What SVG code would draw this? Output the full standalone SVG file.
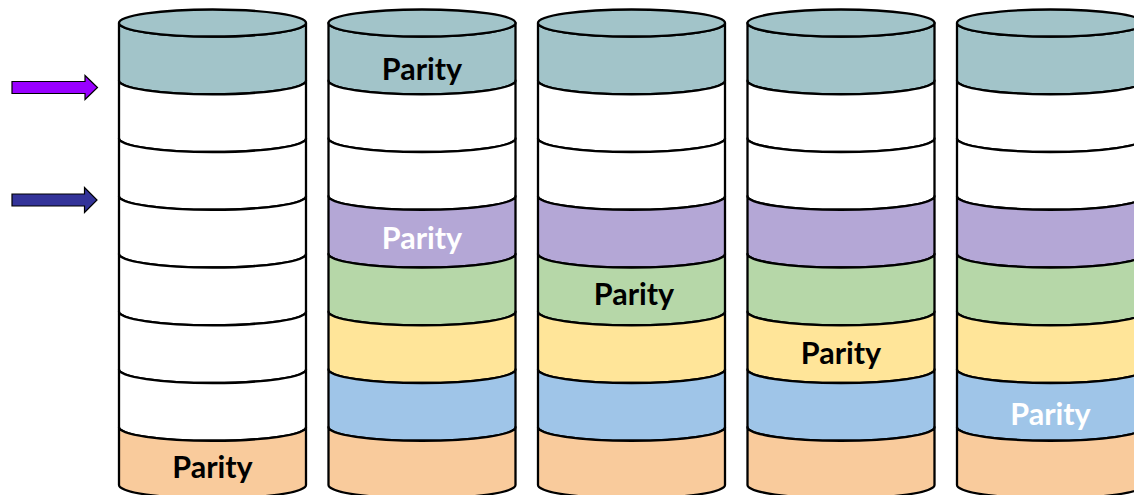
<svg xmlns="http://www.w3.org/2000/svg" xmlns:xlink="http://www.w3.org/1999/xlink" width="1134" height="495" viewBox="0 0 1134 495">
  <style>
    .seg { stroke: #000; stroke-width: 2.3; stroke-linejoin: round; }
    .teal { fill: #a2c4c9; }
    .white { fill: #ffffff; }
    .purple { fill: #b4a7d6; }
    .green { fill: #b6d7a8; }
    .yellow { fill: #ffe599; }
    .blue { fill: #9fc5e8; }
    .orange { fill: #f9cb9c; }
    .label { font-family: Lato, "Liberation Sans", sans-serif; font-weight: bold; font-size: 30.5px; text-anchor: middle; dominant-baseline: central; }
    .dark { fill: #000; }
    .light { fill: #fff; }
    .arrow { stroke: #000; stroke-width: 1.2; }
  </style>
  <defs>
    <!-- one stripe of a disk, drawn at x=0; stripes are 57.75 tall, arcs rx 93.5 / ry 13.5 -->
    <path id="s0" d="M0,23 A93.5,13.5 0 0 0 187,23 L187,80.75 A93.5,13.5 0 0 1 0,80.75 Z"/>
    <path id="s1" d="M0,80.75 A93.5,13.5 0 0 0 187,80.75 L187,138.5 A93.5,13.5 0 0 1 0,138.5 Z"/>
    <path id="s2" d="M0,138.5 A93.5,13.5 0 0 0 187,138.5 L187,196.25 A93.5,13.5 0 0 1 0,196.25 Z"/>
    <path id="s3" d="M0,196.25 A93.5,13.5 0 0 0 187,196.25 L187,254 A93.5,13.5 0 0 1 0,254 Z"/>
    <path id="s4" d="M0,254 A93.5,13.5 0 0 0 187,254 L187,311.75 A93.5,13.5 0 0 1 0,311.75 Z"/>
    <path id="s5" d="M0,311.75 A93.5,13.5 0 0 0 187,311.75 L187,369.5 A93.5,13.5 0 0 1 0,369.5 Z"/>
    <path id="s6" d="M0,369.5 A93.5,13.5 0 0 0 187,369.5 L187,427.25 A93.5,13.5 0 0 1 0,427.25 Z"/>
    <path id="s7" d="M0,427.25 A93.5,13.5 0 0 0 187,427.25 L187,485 A93.5,13.5 0 0 1 0,485 Z"/>
    <ellipse id="lid" cx="93.5" cy="23" rx="93.5" ry="13.5"/>
  </defs>

  <!-- disk 1 -->
  <g id="disk1" transform="translate(119,0)">
    <use href="#s0" class="seg teal"/>
    <use href="#lid" class="seg teal"/>
    <use href="#s1" class="seg white"/>
    <use href="#s2" class="seg white"/>
    <use href="#s3" class="seg white"/>
    <use href="#s4" class="seg white"/>
    <use href="#s5" class="seg white"/>
    <use href="#s6" class="seg white"/>
    <use href="#s7" class="seg orange"/>
    <text class="label dark" x="93.5" y="466">Parity</text>
  </g>

  <!-- disk 2 -->
  <g id="disk2" transform="translate(328.5,0)">
    <use href="#s0" class="seg teal"/>
    <use href="#lid" class="seg teal"/>
    <use href="#s1" class="seg white"/>
    <use href="#s2" class="seg white"/>
    <use href="#s3" class="seg purple"/>
    <use href="#s4" class="seg green"/>
    <use href="#s5" class="seg yellow"/>
    <use href="#s6" class="seg blue"/>
    <use href="#s7" class="seg orange"/>
    <text class="label dark" x="93.5" y="67.5">Parity</text>
    <text class="label light" x="93.5" y="236.5">Parity</text>
  </g>

  <!-- disk 3 -->
  <g id="disk3" transform="translate(538,0)">
    <use href="#s0" class="seg teal"/>
    <use href="#lid" class="seg teal"/>
    <use href="#s1" class="seg white"/>
    <use href="#s2" class="seg white"/>
    <use href="#s3" class="seg purple"/>
    <use href="#s4" class="seg green"/>
    <use href="#s5" class="seg yellow"/>
    <use href="#s6" class="seg blue"/>
    <use href="#s7" class="seg orange"/>
    <text class="label dark" x="96" y="292.5">Parity</text>
  </g>

  <!-- disk 4 -->
  <g id="disk4" transform="translate(747.5,0)">
    <use href="#s0" class="seg teal"/>
    <use href="#lid" class="seg teal"/>
    <use href="#s1" class="seg white"/>
    <use href="#s2" class="seg white"/>
    <use href="#s3" class="seg purple"/>
    <use href="#s4" class="seg green"/>
    <use href="#s5" class="seg yellow"/>
    <use href="#s6" class="seg blue"/>
    <use href="#s7" class="seg orange"/>
    <text class="label dark" x="93.5" y="351.5">Parity</text>
  </g>

  <!-- disk 5 -->
  <g id="disk5" transform="translate(957,0)">
    <use href="#s0" class="seg teal"/>
    <use href="#lid" class="seg teal"/>
    <use href="#s1" class="seg white"/>
    <use href="#s2" class="seg white"/>
    <use href="#s3" class="seg purple"/>
    <use href="#s4" class="seg green"/>
    <use href="#s5" class="seg yellow"/>
    <use href="#s6" class="seg blue"/>
    <use href="#s7" class="seg orange"/>
    <text class="label light" x="93.5" y="413">Parity</text>
  </g>

  <!-- block arrows on the left -->
  <g id="pointers">
    <path class="arrow" fill="#9900ff" d="M12,81.5 L85,81.5 L85,75.5 L97.5,87.5 L85,99.5 L85,93.5 L12,93.5 Z"/>
    <path class="arrow" fill="#333399" d="M12,194 L84.5,194 L84.5,187.5 L97,200 L84.5,212.5 L84.5,206 L12,206 Z"/>
  </g>
</svg>
